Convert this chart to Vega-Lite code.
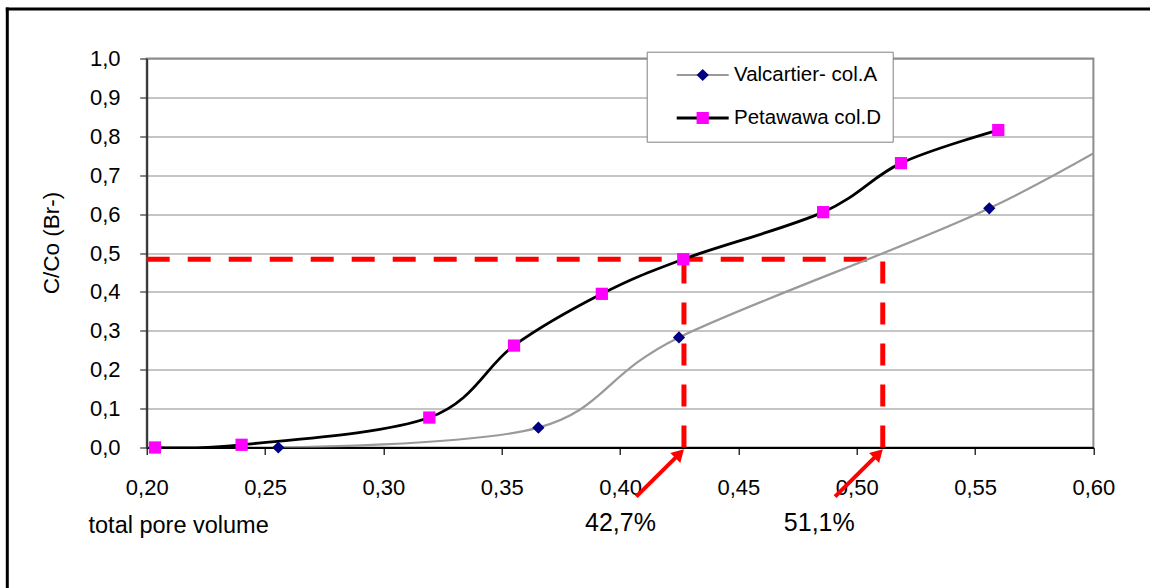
{
  "$schema": "https://vega.github.io/schema/vega-lite/v6.json",
  "width": 946.7,
  "height": 389,
  "autosize": {"type": "none"},
  "padding": {"left": 146.7, "top": 58.5, "right": 56.6, "bottom": 140.5},
  "background": "white",
  "config": {
    "locale": {"number": {"decimal": ",", "thousands": ".", "grouping": [3], "currency": ["", ""]}},
    "font": "Liberation Sans",
    "view": {"stroke": "#8c8c8c", "strokeWidth": 2},
    "axis": {
      "labelFont": "Liberation Sans", "labelFontSize": 22, "labelColor": "black",
      "labelFlush": false, "labelOverlap": false,
      "tickSize": 7, "tickWidth": 1.2,
      "titleFont": "Liberation Sans", "titleFontWeight": "normal", "titleColor": "black"
    },
    "axisX": {
      "grid": false, "domainColor": "black", "domainWidth": 2, "tickColor": "black",
      "labelPadding": 22.5, "titleFontSize": 23.5,
      "titleX": -58.7, "titleY": 77.5, "titleAlign": "left", "titleBaseline": "middle", "titleAnchor": "start"
    },
    "axisY": {
      "grid": true, "gridColor": "#8c8c8c", "gridWidth": 1.2,
      "domainColor": "#333333", "domainWidth": 2, "tickColor": "#333333",
      "labelPadding": 19.7, "titleFontSize": 22.5,
      "titleX": -95, "titleY": 184, "titleAngle": -90, "titleAlign": "center", "titleBaseline": "middle"
    }
  },
  "datasets": {
    "curves": [
      {"series": "Valcartier- col.A", "x": 0.2556, "y": 0.0},
      {"series": "Valcartier- col.A", "x": 0.3655, "y": 0.051},
      {"series": "Valcartier- col.A", "x": 0.4249, "y": 0.283},
      {"series": "Valcartier- col.A", "x": 0.556, "y": 0.615},
      {"series": "Valcartier- col.A", "x": 0.64, "y": 0.9},
      {"series": "Petawawa col.D", "x": 0.2035, "y": 0.0},
      {"series": "Petawawa col.D", "x": 0.2401, "y": 0.007},
      {"series": "Petawawa col.D", "x": 0.3194, "y": 0.077},
      {"series": "Petawawa col.D", "x": 0.3552, "y": 0.262},
      {"series": "Petawawa col.D", "x": 0.3923, "y": 0.395},
      {"series": "Petawawa col.D", "x": 0.4267, "y": 0.484},
      {"series": "Petawawa col.D", "x": 0.4858, "y": 0.605},
      {"series": "Petawawa col.D", "x": 0.5187, "y": 0.731},
      {"series": "Petawawa col.D", "x": 0.5598, "y": 0.816}
    ],
    "readings": [
      {"pct": 0.427, "label": "42,7%"},
      {"pct": 0.511, "label": "51,1%"}
    ]
  },
  "layer": [
    {
      "data": {"values": [{}]},
      "mark": {"type": "rule", "color": "black", "strokeWidth": 3, "strokeCap": "square"},
      "encoding": {
        "x": {"datum": 0.1411, "type": "quantitative", "scale": {"domain": [0.2, 0.6], "nice": false, "zero": false},
              "axis": {"values": [0.2, 0.25, 0.3, 0.35, 0.4, 0.45, 0.5, 0.55, 0.6], "tickCount": 30, "format": ".2f", "title": "total pore volume"}},
        "y": {"datum": 1.1272, "type": "quantitative", "scale": {"domain": [0, 1], "nice": false, "zero": false},
              "axis": {"values": [0, 0.1, 0.2, 0.3, 0.4, 0.5, 0.6, 0.7, 0.8, 0.9, 1], "tickCount": 20, "format": ".1f", "title": "C/Co (Br-)"}},
        "y2": {"datum": -0.5}
      }
    },
    {
      "data": {"values": [{}]},
      "mark": {"type": "rule", "color": "black", "strokeWidth": 3, "strokeCap": "square"},
      "encoding": {
        "x": {"datum": 0.1411, "type": "quantitative", "scale": {"domain": [0.2, 0.6], "nice": false, "zero": false},
              "axis": {"values": [0.2, 0.25, 0.3, 0.35, 0.4, 0.45, 0.5, 0.55, 0.6], "tickCount": 30, "format": ".2f", "title": "total pore volume"}},
        "x2": {"datum": 0.75},
        "y": {"datum": 1.1272, "type": "quantitative", "scale": {"domain": [0, 1], "nice": false, "zero": false},
              "axis": {"values": [0, 0.1, 0.2, 0.3, 0.4, 0.5, 0.6, 0.7, 0.8, 0.9, 1], "tickCount": 20, "format": ".1f", "title": "C/Co (Br-)"}}
      }
    },
    {
      "data": {"values": [{}]},
      "mark": {"type": "rule", "color": "#ff0000", "strokeWidth": 5, "strokeDash": [23, 18]},
      "encoding": {
        "x": {"datum": 0.2, "type": "quantitative", "scale": {"domain": [0.2, 0.6], "nice": false, "zero": false},
              "axis": {"values": [0.2, 0.25, 0.3, 0.35, 0.4, 0.45, 0.5, 0.55, 0.6], "tickCount": 30, "format": ".2f", "title": "total pore volume"}},
        "x2": {"datum": 0.511},
        "y": {"datum": 0.484, "type": "quantitative", "scale": {"domain": [0, 1], "nice": false, "zero": false},
              "axis": {"values": [0, 0.1, 0.2, 0.3, 0.4, 0.5, 0.6, 0.7, 0.8, 0.9, 1], "tickCount": 20, "format": ".1f", "title": "C/Co (Br-)"}}
      }
    },
    {
      "data": {"name": "readings"},
      "mark": {"type": "rule", "color": "#ff0000", "strokeWidth": 5, "strokeDash": [22, 19]},
      "encoding": {
        "x": {"field": "pct", "type": "quantitative", "scale": {"domain": [0.2, 0.6], "nice": false, "zero": false},
              "axis": {"values": [0.2, 0.25, 0.3, 0.35, 0.4, 0.45, 0.5, 0.55, 0.6], "tickCount": 30, "format": ".2f", "title": "total pore volume"}},
        "y": {"datum": 0, "type": "quantitative", "scale": {"domain": [0, 1], "nice": false, "zero": false},
              "axis": {"values": [0, 0.1, 0.2, 0.3, 0.4, 0.5, 0.6, 0.7, 0.8, 0.9, 1], "tickCount": 20, "format": ".1f", "title": "C/Co (Br-)"}},
        "y2": {"datum": 0.484}
      }
    },
    {
      "data": {"name": "readings"},
      "mark": {"type": "rule", "color": "#ff0000", "strokeWidth": 4, "xOffset": -4.3, "yOffset": 6.1, "x2Offset": -47.7, "y2Offset": 49.2},
      "encoding": {
        "x": {"field": "pct", "type": "quantitative", "scale": {"domain": [0.2, 0.6], "nice": false, "zero": false},
              "axis": {"values": [0.2, 0.25, 0.3, 0.35, 0.4, 0.45, 0.5, 0.55, 0.6], "tickCount": 30, "format": ".2f", "title": "total pore volume"}},
        "x2": {"field": "pct"},
        "y": {"datum": 0, "type": "quantitative", "scale": {"domain": [0, 1], "nice": false, "zero": false},
              "axis": {"values": [0, 0.1, 0.2, 0.3, 0.4, 0.5, 0.6, 0.7, 0.8, 0.9, 1], "tickCount": 20, "format": ".1f", "title": "C/Co (Br-)"}},
        "y2": {"datum": 0}
      }
    },
    {
      "data": {"name": "readings"},
      "mark": {"type": "point", "shape": "triangle-up", "angle": 45, "filled": true, "opacity": 1, "color": "#ff0000", "size": 200, "xOffset": -4.3, "yOffset": 6.1},
      "encoding": {
        "x": {"field": "pct", "type": "quantitative", "scale": {"domain": [0.2, 0.6], "nice": false, "zero": false},
              "axis": {"values": [0.2, 0.25, 0.3, 0.35, 0.4, 0.45, 0.5, 0.55, 0.6], "tickCount": 30, "format": ".2f", "title": "total pore volume"}},
        "y": {"datum": 0, "type": "quantitative", "scale": {"domain": [0, 1], "nice": false, "zero": false},
              "axis": {"values": [0, 0.1, 0.2, 0.3, 0.4, 0.5, 0.6, 0.7, 0.8, 0.9, 1], "tickCount": 20, "format": ".1f", "title": "C/Co (Br-)"}}
      }
    },
    {
      "data": {"name": "readings"},
      "mark": {"type": "text", "fontSize": 25, "font": "Liberation Sans", "color": "black", "align": "center", "baseline": "middle", "xOffset": -63.5, "yOffset": 75.5},
      "encoding": {
        "x": {"field": "pct", "type": "quantitative", "scale": {"domain": [0.2, 0.6], "nice": false, "zero": false},
              "axis": {"values": [0.2, 0.25, 0.3, 0.35, 0.4, 0.45, 0.5, 0.55, 0.6], "tickCount": 30, "format": ".2f", "title": "total pore volume"}},
        "y": {"datum": 0, "type": "quantitative", "scale": {"domain": [0, 1], "nice": false, "zero": false},
              "axis": {"values": [0, 0.1, 0.2, 0.3, 0.4, 0.5, 0.6, 0.7, 0.8, 0.9, 1], "tickCount": 20, "format": ".1f", "title": "C/Co (Br-)"}},
        "text": {"field": "label"}
      }
    },
    {
      "data": {"name": "curves"},
      "mark": {"type": "line", "interpolate": "cardinal", "clip": true},
      "encoding": {
        "x": {"field": "x", "type": "quantitative", "scale": {"domain": [0.2, 0.6], "nice": false, "zero": false},
              "axis": {"values": [0.2, 0.25, 0.3, 0.35, 0.4, 0.45, 0.5, 0.55, 0.6], "tickCount": 30, "format": ".2f", "title": "total pore volume"}},
        "y": {"field": "y", "type": "quantitative", "scale": {"domain": [0, 1], "nice": false, "zero": false},
              "axis": {"values": [0, 0.1, 0.2, 0.3, 0.4, 0.5, 0.6, 0.7, 0.8, 0.9, 1], "tickCount": 20, "format": ".1f", "title": "C/Co (Br-)"}},
        "color": {
          "field": "series", "type": "nominal",
          "scale": {"domain": ["Valcartier- col.A", "Petawawa col.D"], "range": ["#9a9a9a", "#000000"]},
          "legend": {
            "orient": "none", "legendX": 500, "legendY": -6.8, "title": null,
            "symbolType": "stroke", "symbolSize": 2704, "symbolStrokeWidth": 2.5, "symbolOffset": 17.2,
            "clipHeight": 24, "rowPadding": 19, "padding": 11.3,
            "labelFont": "Liberation Sans", "labelFontSize": 20.5, "labelColor": "black", "labelOffset": 3.8, "labelLimit": 400,
            "labelExpr": "datum.label + '\u00a0\u00a0\u00a0\u00a0'",
            "strokeColor": "#808080", "fillColor": "white"
          }
        },
        "strokeWidth": {
          "field": "series", "type": "nominal",
          "scale": {"domain": ["Valcartier- col.A", "Petawawa col.D"], "range": [2.2, 2.8]},
          "legend": null
        }
      }
    },
    {
      "data": {"name": "curves"},
      "transform": [{"filter": "datum.x <= 0.6"}],
      "mark": {"type": "point", "filled": true, "opacity": 1, "size": 150, "strokeWidth": 0},
      "encoding": {
        "x": {"field": "x", "type": "quantitative", "scale": {"domain": [0.2, 0.6], "nice": false, "zero": false},
              "axis": {"values": [0.2, 0.25, 0.3, 0.35, 0.4, 0.45, 0.5, 0.55, 0.6], "tickCount": 30, "format": ".2f", "title": "total pore volume"}},
        "y": {"field": "y", "type": "quantitative", "scale": {"domain": [0, 1], "nice": false, "zero": false},
              "axis": {"values": [0, 0.1, 0.2, 0.3, 0.4, 0.5, 0.6, 0.7, 0.8, 0.9, 1], "tickCount": 20, "format": ".1f", "title": "C/Co (Br-)"}},
        "fill": {
          "field": "series", "type": "nominal", "sort": "descending",
          "scale": {"range": ["#000080", "#ff00ff"]},
          "legend": {
            "orient": "none", "legendX": 500, "legendY": -6.8, "title": null,
            "symbolSize": 150, "symbolOffset": 34.45, "symbolOpacity": 1, "symbolStrokeWidth": 0,
            "clipHeight": 24, "rowPadding": 19, "padding": 11.3,
            "labelFontSize": 20.5, "labelExpr": "''", "labelOffset": 3.8
          }
        },
        "shape": {
          "field": "series", "type": "nominal", "sort": "descending",
          "scale": {"range": ["diamond", "square"]},
          "legend": {
            "orient": "none", "legendX": 500, "legendY": -6.8, "title": null,
            "symbolSize": 150, "symbolOffset": 34.45, "symbolOpacity": 1, "symbolStrokeWidth": 0,
            "clipHeight": 24, "rowPadding": 19, "padding": 11.3,
            "labelFontSize": 20.5, "labelExpr": "''", "labelOffset": 3.8
          }
        }
      }
    }
  ]
}
